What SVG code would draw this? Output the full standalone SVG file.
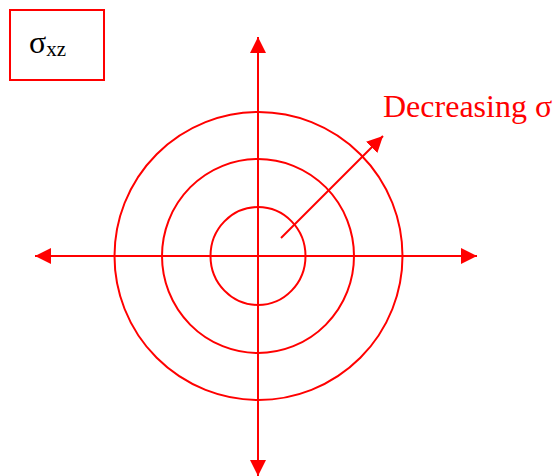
<svg xmlns="http://www.w3.org/2000/svg" width="558" height="476" viewBox="0 0 558 476">
<style>
.ln{stroke:#ff0000;stroke-width:2;fill:none}
.t{font-family:"Liberation Serif","Times New Roman",serif}
</style>
<defs>
<marker id="ah" markerWidth="16" markerHeight="16" viewBox="0 0 16 16" refX="16" refY="8" orient="auto" markerUnits="userSpaceOnUse">
<path d="M0,0 L16,8 L0,16 Z" fill="#ff0000"/>
</marker>
</defs>
<rect width="558" height="476" fill="#ffffff"/>
<g id="label-box">
<rect x="10" y="10" width="94" height="70" fill="none" stroke="#ff0000" stroke-width="2"/>
<text class="t" x="29" y="53" font-size="32" fill="#000">σ<tspan font-size="21" dy="3">xz</tspan></text>
</g>
<g id="circles">
<ellipse class="ln" cx="258" cy="256" rx="47.5" ry="49"/>
<ellipse class="ln" cx="258" cy="256" rx="96" ry="97"/>
<ellipse class="ln" cx="258.5" cy="256" rx="144" ry="144"/>
</g>
<g id="connectors">
<line class="ln" x1="258" y1="256" x2="258" y2="37" marker-end="url(#ah)"/>
<line class="ln" x1="258" y1="256" x2="258" y2="476" marker-end="url(#ah)"/>
<line class="ln" x1="258" y1="256" x2="35" y2="256" marker-end="url(#ah)"/>
<line class="ln" x1="258" y1="256" x2="477" y2="256" marker-end="url(#ah)"/>
<line class="ln" x1="281" y1="238" x2="383" y2="136" marker-end="url(#ah)"/>
</g>
<g id="label-decreasing">
<text class="t" x="383" y="117" font-size="32" fill="#ff0000">Decreasing σ</text>
</g>
</svg>
